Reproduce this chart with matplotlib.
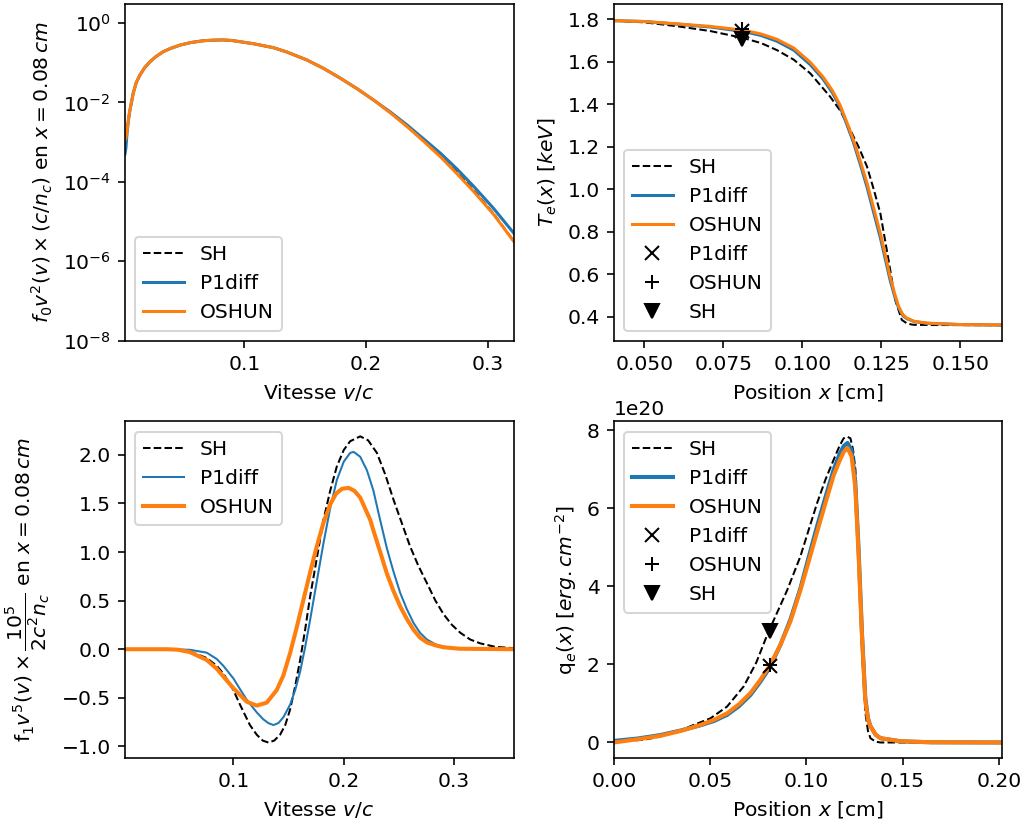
import matplotlib
matplotlib.use('Agg')
import matplotlib.pyplot as plt
from matplotlib.ticker import NullLocator

# --- f0 v^2 at x = 0.08 cm (top left), log10 of the values
v0 = [0.0017, 0.0025, 0.0035, 0.0046, 0.0058, 0.0085, 0.011, 0.014, 0.018, 0.0223,
      0.027, 0.0332, 0.04, 0.047, 0.056, 0.0662, 0.075, 0.0827, 0.09, 0.0965, 0.1074,
      0.1239, 0.135, 0.1514, 0.165, 0.179, 0.1925, 0.2063, 0.22, 0.2339, 0.2475,
      0.2613, 0.275, 0.2888, 0.305, 0.3218]
f0_osh_log = [-2.95, -2.9, -2.7, -2.42, -2.19, -1.77, -1.5, -1.31, -1.12, -0.975,
              -0.85, -0.72, -0.63, -0.555, -0.49, -0.445, -0.43, -0.425, -0.44, -0.47, -0.52,
              -0.62, -0.73, -0.93, -1.14, -1.39, -1.65, -1.94, -2.26, -2.61, -2.98,
              -3.37, -3.8, -4.25, -4.82, -5.51]
f0_p1_log = [-3.3, -3.15, -2.75, -2.44, -2.2, -1.77, -1.5, -1.31, -1.12, -0.975,
             -0.85, -0.72, -0.63, -0.555, -0.49, -0.445, -0.43, -0.425, -0.44, -0.47, -0.52,
             -0.62, -0.73, -0.93, -1.14, -1.39, -1.65, -1.94, -2.24, -2.57, -2.92,
             -3.28, -3.68, -4.12, -4.67, -5.3]
f0_sh_log = [-2.95, -2.9, -2.7, -2.42, -2.19, -1.77, -1.5, -1.31, -1.12, -0.975,
             -0.85, -0.72, -0.63, -0.555, -0.49, -0.445, -0.43, -0.425, -0.44, -0.47, -0.52,
             -0.62, -0.73, -0.93, -1.14, -1.39, -1.65, -1.94, -2.26, -2.6, -2.96,
             -3.34, -3.76, -4.22, -4.8, -5.5]

# --- Te(x) (top right)
xT = [0.0403, 0.05, 0.0603, 0.0709, 0.0814, 0.087, 0.092, 0.0973, 0.1025, 0.1065,
      0.1095, 0.112, 0.1141, 0.1162, 0.1184, 0.1205, 0.1226, 0.1247, 0.1263, 0.1278,
      0.1292, 0.1305, 0.1318, 0.1331, 0.1355, 0.1395, 0.15, 0.1634]
Te_osh = [1.794, 1.79, 1.779, 1.767, 1.749, 1.731, 1.706, 1.665, 1.598, 1.53,
          1.465, 1.395, 1.315, 1.232, 1.13, 1.028, 0.91, 0.792, 0.69, 0.588,
          0.51, 0.447, 0.41, 0.392, 0.377, 0.369, 0.362, 0.36]
Te_p1 = [1.794, 1.79, 1.778, 1.764, 1.743, 1.724, 1.697, 1.655, 1.587, 1.52,
         1.455, 1.387, 1.305, 1.22, 1.115, 1.01, 0.89, 0.772, 0.67, 0.572,
         0.498, 0.44, 0.405, 0.39, 0.376, 0.368, 0.362, 0.36]
xT_sh = [0.0403, 0.05, 0.0603, 0.0709, 0.0814, 0.087, 0.092, 0.0973, 0.1025, 0.1088,
         0.112, 0.1152, 0.1178, 0.1205, 0.1226, 0.1247, 0.1273, 0.1294, 0.1315, 0.1333,
         0.1352, 0.14, 0.1634]
Te_sh = [1.794, 1.786, 1.768, 1.745, 1.712, 1.688, 1.655, 1.61, 1.546, 1.436,
         1.37, 1.279, 1.2, 1.106, 1.0, 0.887, 0.667, 0.479, 0.384, 0.366,
         0.361, 0.36, 0.359]

# --- f1 v^5 (bottom left)
v1_sh = [0.0018, 0.04, 0.05, 0.0607, 0.0758, 0.0849, 0.0909, 0.1, 0.106, 0.115, 0.1212,
         0.1266, 0.1317, 0.137, 0.1423, 0.147, 0.1514, 0.156, 0.1605, 0.165, 0.1695,
         0.1755, 0.1816, 0.1877, 0.1937, 0.2, 0.2058, 0.2149, 0.222, 0.23, 0.2375,
         0.245, 0.2525, 0.26, 0.2675, 0.2753, 0.283, 0.2904, 0.298, 0.3055, 0.3145,
         0.3237, 0.337, 0.3538]
f1_sh = [0.0, 0.0, -0.005, -0.024, -0.09, -0.17, -0.25, -0.42, -0.57, -0.78, -0.88,
         -0.94, -0.96, -0.94, -0.88, -0.78, -0.62, -0.38, -0.11, 0.2, 0.54,
         0.93, 1.33, 1.63, 1.88, 2.05, 2.14, 2.19, 2.15, 2.02, 1.8,
         1.54, 1.3, 1.06, 0.86, 0.68, 0.5, 0.36, 0.25, 0.17, 0.1,
         0.06, 0.025, 0.01]
v1_p1 = [0.0018, 0.04, 0.05, 0.0607, 0.0758, 0.0849, 0.0909, 0.1, 0.106, 0.1121, 0.1212,
         0.127, 0.1317, 0.1363, 0.1408, 0.1453, 0.1514, 0.156, 0.1605, 0.165, 0.1695,
         0.1756, 0.1816, 0.1877, 0.1937, 0.2, 0.2058, 0.209, 0.2149, 0.221, 0.2269,
         0.2315, 0.239, 0.245, 0.2511, 0.2572, 0.2632, 0.269, 0.2753, 0.283, 0.2904,
         0.305, 0.3538]
f1_p1 = [0.0, 0.0, -0.002, -0.006, -0.035, -0.1, -0.17, -0.3, -0.41, -0.52, -0.65,
         -0.72, -0.76, -0.78, -0.76, -0.7, -0.57, -0.42, -0.23, 0.02, 0.3,
         0.7, 1.09, 1.45, 1.74, 1.93, 2.02, 2.03, 1.98, 1.84, 1.63,
         1.4, 1.04, 0.8, 0.58, 0.41, 0.27, 0.17, 0.1, 0.05, 0.025,
         0.005, 0.0]
v1_osh = [0.0018, 0.04, 0.05, 0.0607, 0.0758, 0.0849, 0.0909, 0.1, 0.106, 0.1121, 0.1212,
          0.1302, 0.1393, 0.1453, 0.1514, 0.1575, 0.1635, 0.1695, 0.1756, 0.1816, 0.1877,
          0.193, 0.1983, 0.2043, 0.2096, 0.2149, 0.224, 0.2269, 0.233, 0.239, 0.245,
          0.2511, 0.2572, 0.2632, 0.269, 0.2753, 0.283, 0.2904, 0.305, 0.3538]
f1_osh = [0.0, 0.0, -0.005, -0.03, -0.11, -0.2, -0.28, -0.4, -0.47, -0.54, -0.58,
          -0.55, -0.42, -0.27, -0.04, 0.23, 0.51, 0.79, 1.06, 1.3, 1.49,
          1.6, 1.65, 1.66, 1.63, 1.56, 1.33, 1.22, 1.0, 0.78, 0.6,
          0.44, 0.31, 0.2, 0.12, 0.07, 0.04, 0.02, 0.005, 0.0]

# --- q_e(x) (bottom right), in units of 1e20
xq_sh = [0.0, 0.0156, 0.024, 0.033, 0.0415, 0.0502, 0.0588, 0.0675, 0.074, 0.08, 0.085,
         0.09, 0.0969, 0.1012, 0.1056, 0.11, 0.1142, 0.1172, 0.1194, 0.1212, 0.1229,
         0.1243, 0.1255, 0.1272, 0.129, 0.1307, 0.132, 0.1333, 0.136, 0.1385, 0.2019]
q_sh = [0.02, 0.07, 0.15, 0.28, 0.45, 0.62, 0.92, 1.44, 2.05, 2.8, 3.35,
        3.9, 4.77, 5.45, 6.14, 6.75, 7.25, 7.6, 7.8, 7.84, 7.8,
        7.5, 6.99, 4.86, 2.29, 0.75, 0.3, 0.11, 0.02, 0.0, 0.0]
xq = [0.0, 0.0121, 0.0242, 0.035, 0.045, 0.052, 0.0589, 0.065, 0.071, 0.076, 0.081,
      0.0865, 0.0917, 0.0969, 0.1004, 0.1056, 0.11, 0.1142, 0.1175, 0.1194, 0.1214,
      0.1235, 0.1254, 0.1271, 0.1289, 0.1306, 0.132, 0.1333, 0.136, 0.1385, 0.149,
      0.165, 0.2019]
q_osh = [0.0, 0.08, 0.17, 0.3, 0.45, 0.58, 0.75, 0.98, 1.27, 1.6, 1.97,
         2.5, 3.1, 3.9, 4.5, 5.4, 6.15, 6.85, 7.25, 7.45, 7.55,
         7.33, 6.56, 4.86, 2.72, 1.09, 0.6, 0.41, 0.2, 0.11, 0.03,
         0.005, 0.0]
q_p1 = [0.04, 0.1, 0.19, 0.31, 0.44, 0.55, 0.71, 0.93, 1.22, 1.55, 1.92,
        2.5, 3.15, 3.95, 4.6, 5.55, 6.3, 7.0, 7.42, 7.6, 7.68,
        7.5, 6.7, 5.0, 2.8, 1.15, 0.62, 0.42, 0.2, 0.11, 0.03,
        0.005, 0.0]

# single points at x = 0.08 cm : P1diff, OSHUN, SH
x_pt = 0.081
Te_pts = [1.746, 1.753, 1.706]
q_pts = [1.95, 1.98, 2.85]

fig, axs = plt.subplots(2, 2, figsize=(1024 / 146, 824 / 146), dpi=146)
plt.subplots_adjust(left=0.122, right=0.979, top=0.995, bottom=0.080,
                    wspace=0.258, hspace=0.24)

# top left
ax = axs[0, 0]
ax.plot(v0, [10 ** a for a in f0_sh_log], 'k--', lw=1, label='SH')
ax.plot(v0, [10 ** a for a in f0_p1_log], color='C0', lw=1.5, label='P1diff')
ax.plot(v0, [10 ** a for a in f0_osh_log], color='C1', lw=1.5, label='OSHUN')
ax.set_yscale('log')
ax.set_ylim(1e-8, 3)
ax.set_xlim(0.0017, 0.3214)
ax.set_yticks([1e-8, 1e-6, 1e-4, 1e-2, 1e0])
ax.yaxis.set_minor_locator(NullLocator())
ax.set_xticks([0.1, 0.2, 0.3])
ax.set_xlabel(r'Vitesse $v/c$')
ax.set_ylabel(r'$f_0 v^2(v) \times (c/n_c)$ en $x = 0.08\,cm$')
ax.legend(loc='lower left')

# top right
ax = axs[0, 1]
ax.plot(xT_sh, Te_sh, 'k--', lw=1, label='SH')
ax.plot(xT, Te_p1, color='C0', lw=1.5, label='P1diff')
ax.plot(xT, Te_osh, color='C1', lw=1.5, label='OSHUN')
ax.plot(x_pt, Te_pts[0], 'kx', ms=7, label='P1diff')
ax.plot(x_pt, Te_pts[1], 'k+', ms=7, label='OSHUN')
ax.plot(x_pt, Te_pts[2], 'kv', ms=7, label='SH')
ax.set_xlim(0.0403, 0.1634)
ax.set_ylim(0.286, 1.872)
ax.set_xticks([0.05, 0.075, 0.1, 0.125, 0.15])
ax.set_yticks([0.4, 0.6, 0.8, 1.0, 1.2, 1.4, 1.6, 1.8])
ax.set_xlabel(r'Position $x$ [cm]')
ax.set_ylabel(r'$T_e(x)$ $[keV]$')
ax.legend(loc='lower left')

# bottom left
ax = axs[1, 0]
ax.plot(v1_sh, f1_sh, 'k--', lw=1, label='SH')
ax.plot(v1_p1, f1_p1, color='C0', lw=1, label='P1diff')
ax.plot(v1_osh, f1_osh, color='C1', lw=2, label='OSHUN')
ax.set_xlim(0.0018, 0.3538)
ax.set_ylim(-1.12, 2.343)
ax.set_xticks([0.1, 0.2, 0.3])
ax.set_xlabel(r'Vitesse $v/c$')
ax.set_ylabel(r'f$_1 v^5(v) \times \dfrac{10^5}{2c^2n_c}$ en $x = 0.08\,cm$')
ax.legend(loc='upper left')

# bottom right
ax = axs[1, 1]
ax.plot(xq_sh, [a * 1e20 for a in q_sh], 'k--', lw=1, label='SH')
ax.plot(xq, [a * 1e20 for a in q_p1], color='C0', lw=2, label='P1diff')
ax.plot(xq, [a * 1e20 for a in q_osh], color='C1', lw=2, label='OSHUN')
ax.plot(x_pt, q_pts[0] * 1e20, 'kx', ms=7, label='P1diff')
ax.plot(x_pt, q_pts[1] * 1e20, 'k+', ms=7, label='OSHUN')
ax.plot(x_pt, q_pts[2] * 1e20, 'kv', ms=7, label='SH')
ax.set_xlim(0, 0.2019)
ax.set_ylim(-0.40e20, 8.23e20)
ax.set_yticks([0, 2e20, 4e20, 6e20, 8e20])
ax.set_xlabel(r'Position $x$ [cm]')
ax.set_ylabel(r'q$_e(x)$ $[erg.cm^{-2}]$')
ax.legend(loc='upper left')

plt.savefig('out.png', dpi=146)
